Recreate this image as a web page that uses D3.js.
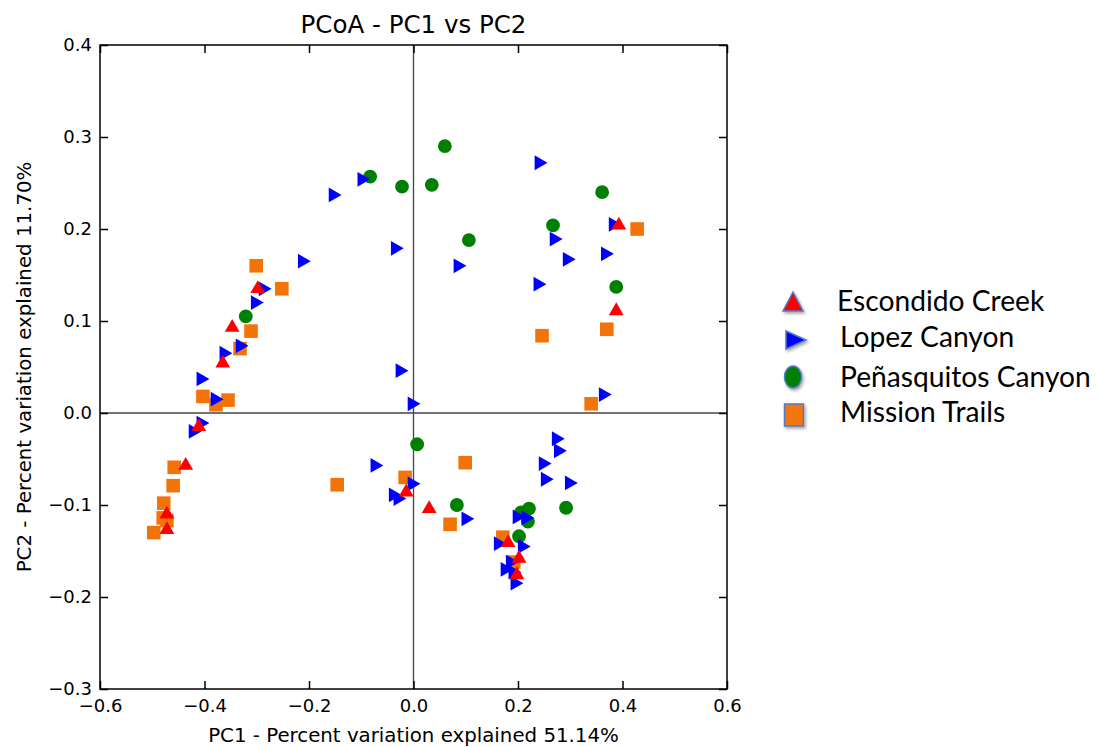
<!DOCTYPE html>
<html><head><meta charset="utf-8">
<script src="https://cdn.jsdelivr.net/npm/d3@7"></script>
<style>body{margin:0;background:#fff}svg{display:block}</style>
</head><body>
<svg id="chart" width="1098" height="747"></svg>
<script>
const xTicks = [-0.6,-0.4,-0.2,0.0,0.2,0.4,0.6];
const yTicks = [0.4,0.3,0.2,0.1,0.0,-0.1,-0.2,-0.3];
const seriesNames = ["Escondido Creek","Lopez Canyon","Peñasquitos Canyon","Mission Trails"];
const escondidoCreek = [
 [0.393,0.204],[0.388,0.111],[-0.298,0.135],[-0.347,0.093],[-0.365,0.054],[-0.411,-0.015],
 [-0.436,-0.057],[-0.472,-0.110],[-0.472,-0.127],[-0.014,-0.086],[0.030,-0.104],
 [0.181,-0.141],[0.202,-0.158],[0.198,-0.176]];
const lopezCanyon = [
 [0.240,0.272],[0.382,0.205],[0.269,0.189],[0.294,0.167],[0.367,0.173],[0.238,0.140],
 [0.085,0.160],[-0.035,0.179],[-0.099,0.254],[-0.154,0.237],[-0.213,0.165],[-0.288,0.135],
 [-0.303,0.120],[-0.332,0.073],[-0.363,0.065],[-0.407,0.037],[-0.380,0.015],[-0.407,-0.011],
 [-0.422,-0.020],[-0.026,0.046],[-0.003,0.010],[0.363,0.020],[0.273,-0.028],[0.277,-0.041],
 [0.248,-0.055],[0.252,-0.072],[0.298,-0.076],[-0.074,-0.057],[-0.003,-0.077],[-0.039,-0.089],
 [-0.030,-0.093],[0.100,-0.115],[0.198,-0.113],[0.215,-0.114],[0.162,-0.142],[0.208,-0.145],
 [0.185,-0.162],[0.175,-0.170],[0.190,-0.173],[0.194,-0.185]];
const penasquitosCanyon = [
 [0.060,0.290],[-0.083,0.257],[-0.022,0.246],[0.035,0.248],[0.106,0.188],[0.267,0.204],
 [0.361,0.240],[0.388,0.137],[-0.321,0.105],[0.007,-0.034],[0.083,-0.100],[0.292,-0.103],
 [0.221,-0.104],[0.206,-0.108],[0.219,-0.118],[0.202,-0.134]];
const missionTrails = [
 [0.428,0.200],[0.370,0.091],[0.246,0.084],[0.340,0.010],[-0.301,0.160],[-0.252,0.135],
 [-0.311,0.089],[-0.332,0.070],[-0.403,0.018],[-0.378,0.009],[-0.355,0.014],[-0.458,-0.059],
 [-0.460,-0.079],[-0.478,-0.098],[-0.479,-0.114],[-0.472,-0.117],[-0.497,-0.130],
 [-0.146,-0.078],[-0.016,-0.070],[0.099,-0.054],[0.070,-0.121],[0.171,-0.135],[0.192,-0.162]];

const colors = {"Escondido Creek":"#FF0000","Lopez Canyon":"#0000FF","Peñasquitos Canyon":"#008000","Mission Trails":"#F27408"};

const svg = d3.select("#chart");
const L=100,R=727,T=45,B=689;
const x = d3.scaleLinear().domain([-0.6,0.6]).range([L,R]);
const y = d3.scaleLinear().domain([-0.3,0.4]).range([B,T]);
const fmt = d3.format(".1f");
const font = "DejaVu Sans, sans-serif";

// zero lines
svg.append("line").attr("x1",x(0)).attr("x2",x(0)).attr("y1",T).attr("y2",B).attr("stroke","#444").attr("stroke-width",1.3);
svg.append("line").attr("x1",L).attr("x2",R).attr("y1",y(0)).attr("y2",y(0)).attr("stroke","#444").attr("stroke-width",1.3);

function styleAxis(g){
  g.select(".domain").remove();
  g.selectAll(".tick line").attr("stroke","#000").attr("stroke-width",1.5);
  g.selectAll(".tick text").attr("font-family",font).attr("font-size",18).attr("fill","#000");
}
svg.append("g").attr("transform",`translate(0,${B})`)
  .call(d3.axisBottom(x).tickValues(xTicks).tickFormat(fmt).tickSize(-8).tickPadding(10)).call(styleAxis);
svg.append("g").attr("transform",`translate(0,${T})`)
  .call(d3.axisTop(x).tickValues(xTicks).tickFormat("").tickSize(-8)).call(styleAxis);
svg.append("g").attr("transform",`translate(${L},0)`)
  .call(d3.axisLeft(y).tickValues(yTicks).tickFormat(fmt).tickSize(-8).tickPadding(8)).call(styleAxis);
svg.append("g").attr("transform",`translate(${R},0)`)
  .call(d3.axisRight(y).tickValues(yTicks).tickFormat("").tickSize(-8)).call(styleAxis);
svg.append("rect").attr("x",L).attr("y",T).attr("width",R-L).attr("height",B-T)
  .attr("fill","none").attr("stroke","#000").attr("stroke-width",1.5);

// symbols
const symTri = d3.symbol().type(d3.symbolTriangle).size(95);
const symSq = d3.symbol().type(d3.symbolSquare).size(185);
const symCirc = d3.symbol().type(d3.symbolCircle).size(150);

function drawSeries(data, name, sym, rot){
  svg.append("g").selectAll("path").data(data).join("path")
    .attr("d", sym())
    .attr("transform", d=>`translate(${x(d[0])},${y(d[1])})${rot?` rotate(${rot})`:""}`)
    .attr("fill", colors[name]);
}
drawSeries(penasquitosCanyon,"Peñasquitos Canyon",symCirc,0);
drawSeries(missionTrails,"Mission Trails",symSq,0);
drawSeries(lopezCanyon,"Lopez Canyon",symTri,90);
drawSeries(escondidoCreek,"Escondido Creek",symTri,0);

// title & labels
svg.append("text").attr("x",(L+R)/2).attr("y",33).attr("text-anchor","middle")
  .attr("font-family",font).attr("font-size",24.5).text("PCoA - PC1 vs PC2");
svg.append("text").attr("x",(L+R)/2).attr("y",742).attr("text-anchor","middle")
  .attr("font-family",font).attr("font-size",19.8).text("PC1 - Percent variation explained 51.14%");
svg.append("text").attr("transform",`translate(31,${(T+B)/2}) rotate(-90)`).attr("text-anchor","middle")
  .attr("font-family",font).attr("font-size",19.8).text("PC2 - Percent variation explained 11.70%");

// legend
const defs = svg.append("defs");
const f = defs.append("filter").attr("id","sh").attr("x","-50%").attr("y","-50%").attr("width","200%").attr("height","200%");
f.append("feDropShadow").attr("dx",1.5).attr("dy",2).attr("stdDeviation",1.5).attr("flood-color","#000").attr("flood-opacity",0.35);
const legY = [311,347,387,422];
const legTX = [837,840,840,840];
const lg = svg.append("g");
const mk = [
  {c:[793,302], d:"M0,-10 L10,9 L-10,9 Z"},
  {c:[795,340], d:"M-9,-9 L11,0 L-9,9 Z"},
  {c:[793,377], ell:[8.5,11]},
  {c:[794,415], rect:[19,22]}
];
seriesNames.forEach((n,i)=>{
  const m = mk[i];
  const g = lg.append("g").attr("transform",`translate(${m.c[0]},${m.c[1]})`).attr("filter","url(#sh)");
  let s;
  if(m.d) s = g.append("path").attr("d",m.d);
  else if(m.ell) s = g.append("ellipse").attr("rx",m.ell[0]).attr("ry",m.ell[1]);
  else s = g.append("rect").attr("x",-m.rect[0]/2).attr("y",-m.rect[1]/2).attr("width",m.rect[0]).attr("height",m.rect[1]);
  s.attr("fill",colors[n]).attr("stroke","#4F7BC4").attr("stroke-width",1.5);
  lg.append("text").attr("x",legTX[i]).attr("y",legY[i]).attr("font-family","Lato, Carlito, sans-serif")
    .attr("font-size",28.2).attr("fill","#000").text(n);
});
</script>
</body></html>
